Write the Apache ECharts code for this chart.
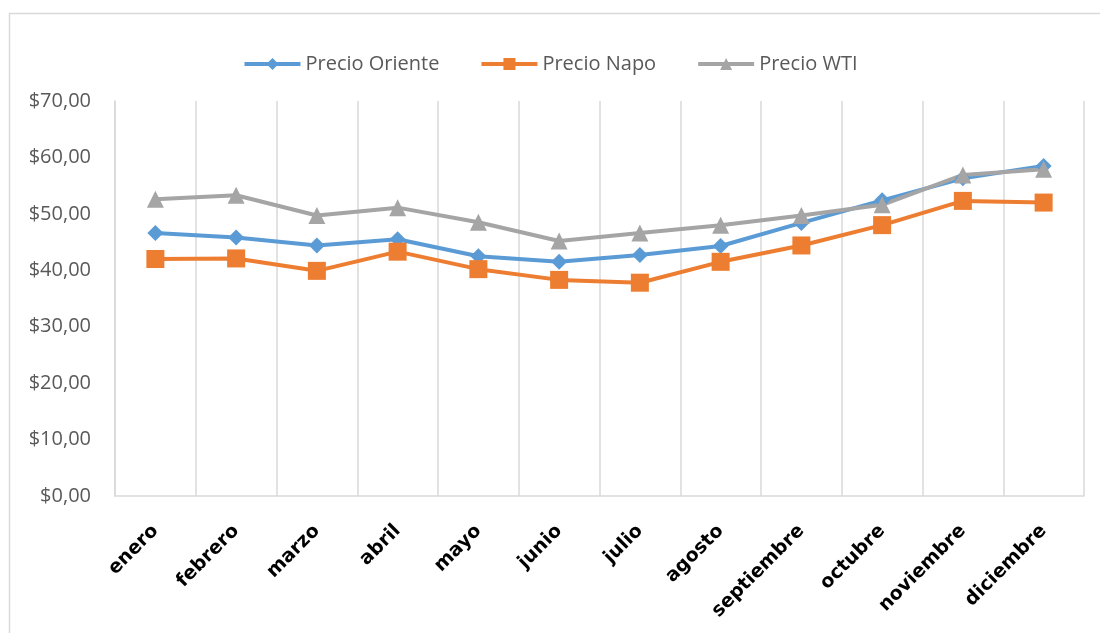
<!DOCTYPE html>
<html>
<head>
<meta charset="utf-8">
<script src="https://cdn.jsdelivr.net/npm/echarts@6/dist/echarts.min.js"></script>
<style>html,body{margin:0;padding:0;background:#fff}#c{width:1100px;height:633px}</style>
</head>
<body>
<div id="c"></div>
<script>
const categories = ['enero','febrero','marzo','abril','mayo','junio','julio','agosto','septiembre','octubre','noviembre','diciembre'];
const precioOriente = [46.6, 45.8, 44.4, 45.5, 42.5, 41.5, 42.7, 44.3, 48.4, 52.4, 56.3, 58.5];
const precioNapo = [42.0, 42.1, 39.9, 43.3, 40.2, 38.3, 37.8, 41.5, 44.4, 48.0, 52.3, 52.0];
const precioWTI = [52.6, 53.3, 49.7, 51.1, 48.5, 45.2, 46.6, 48.0, 49.7, 51.6, 56.9, 57.9];
const seriesNames = ['Precio Oriente','Precio Napo','Precio WTI'];
const colors = ['#5b9bd5','#ed7d31','#a5a5a5'];
const symbols = ['diamond','rect','triangle'];
const symbolSizes = [16, 18, 17];
const yMin = 0, yMax = 70, yInterval = 10;

const chart = echarts.init(document.getElementById('c'), null, {renderer:'canvas'});
const dataSets = [precioOriente, precioNapo, precioWTI];
chart.setOption({
  animation: false,
  graphic: [{
    type: 'rect', left: 7, top: 11, silent: true,
    shape: {width: 1200, height: 700},
    style: {fill: 'none', stroke: '#d9d9d9', lineWidth: 1.5}
  }],
  color: colors,
  legend: {
    top: 49, left: 'center', itemGap: 40, itemWidth: 56, itemHeight: 15,
    lineStyle: {width: 4},
    textStyle: {fontFamily: 'Open Sans', fontSize: 20, color: '#595959'},
    data: seriesNames
  },
  grid: {left: 115, right: 16, top: 101, bottom: 137},
  xAxis: {
    type: 'category', data: categories, boundaryGap: true,
    axisLine: {show: true, lineStyle: {color: '#d9d9d9', width: 1.5}},
    axisTick: {show: false},
    splitLine: {show: true, lineStyle: {color: '#d9d9d9', width: 1.5}},
    axisLabel: {rotate: 45, interval: 0, margin: 32, fontFamily: 'DejaVu Sans', fontWeight: 'bold', fontSize: 19, color: '#000'}
  },
  yAxis: {
    type: 'value', min: yMin, max: yMax, interval: yInterval,
    axisLine: {show: true, lineStyle: {color: '#d9d9d9', width: 1.5}},
    axisTick: {show: false},
    splitLine: {show: false},
    axisLabel: {margin: 24, fontFamily: 'Open Sans', fontSize: 20, color: '#595959',
      formatter: v => '$' + v.toFixed(2).replace('.', ',')}
  },
  series: dataSets.map((d, i) => ({
    name: seriesNames[i], type: 'line', data: d,
    symbol: symbols[i], symbolSize: symbolSizes[i],
    lineStyle: {width: 4, color: colors[i]},
    itemStyle: {color: colors[i]}
  }))
});
</script>
</body>
</html>
